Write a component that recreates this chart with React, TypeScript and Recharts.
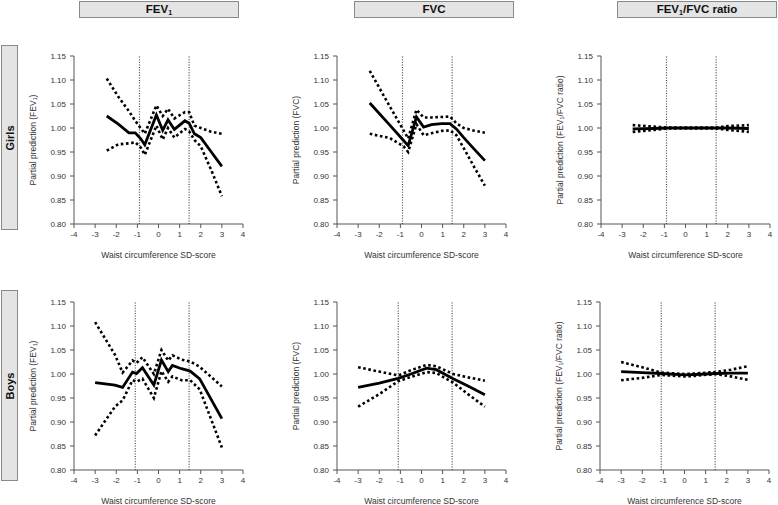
import React from 'react';
import { LineChart, Line, XAxis, YAxis, ReferenceLine } from 'recharts';

// Waist circumference SD-score vs partial prediction, est = estimate, hi/lo = 95% CI
const girlsFev1X = [-2.45, -1.9, -1.4, -1.1, -0.85, -0.65, -0.1, 0.2, 0.45, 0.75, 1.25, 1.45, 1.7, 2.0, 2.5, 3.0];
const girlsFev1Est = [1.025, 1.008, 0.99, 0.99, 0.978, 0.965, 1.027, 0.995, 1.017, 0.997, 1.015, 1.01, 0.988, 0.98, 0.95, 0.92];
const girlsFev1Hi = [1.103, 1.065, 1.035, 1.015, 1.0, 0.988, 1.047, 1.025, 1.04, 1.02, 1.033, 1.033, 1.005, 1.0, 0.992, 0.988];
const girlsFev1Lo = [0.953, 0.966, 0.968, 0.97, 0.96, 0.944, 1.005, 0.976, 1.0, 0.98, 0.998, 0.993, 0.975, 0.962, 0.912, 0.858];

const girlsFvcX = [-2.45, -1.5, -0.85, -0.63, -0.24, 0.1, 0.47, 0.95, 1.35, 1.65, 2.0, 2.45, 3.0];
const girlsFvcEst = [1.052, 1.006, 0.974, 0.963, 1.023, 1.002, 1.007, 1.009, 1.009, 0.998, 0.98, 0.958, 0.932];
const girlsFvcHi = [1.119, 1.045, 0.995, 0.978, 1.038, 1.022, 1.022, 1.023, 1.024, 1.01, 1.0, 0.995, 0.99];
const girlsFvcLo = [0.988, 0.979, 0.962, 0.95, 1.008, 0.985, 0.989, 0.994, 0.995, 0.985, 0.958, 0.922, 0.88];

const girlsRatioX = [-2.5, -1.5, -0.9, 0, 1, 1.45, 2, 3];
const girlsRatioEst = [0.998, 0.999, 1.0, 1.0, 1.0, 1.0, 1.0, 0.999];
const girlsRatioHi = [1.006, 1.003, 1.001, 1.001, 1.001, 1.001, 1.004, 1.006];
const girlsRatioLo = [0.992, 0.996, 0.999, 0.999, 0.999, 0.999, 0.996, 0.992];

const boysFev1X = [-3.0, -2.06, -1.7, -1.23, -1.04, -0.76, -0.22, 0.14, 0.46, 0.66, 1.09, 1.5, 1.95, 3.0];
const boysFev1Est = [0.982, 0.977, 0.972, 1.004, 1.001, 1.013, 0.977, 1.029, 1.005, 1.018, 1.011, 1.006, 0.99, 0.907];
const boysFev1Hi = [1.108, 1.04, 1.003, 1.028, 1.023, 1.035, 1.0, 1.05, 1.028, 1.039, 1.03, 1.026, 1.015, 0.974];
const boysFev1Lo = [0.872, 0.932, 0.945, 0.987, 0.984, 0.99, 0.95, 1.006, 0.984, 0.995, 0.987, 0.987, 0.968, 0.847];

const boysFvcX = [-3.0, -2.0, -1.1, -0.5, 0.24, 0.7, 1.5, 2.2, 3.0];
const boysFvcEst = [0.972, 0.981, 0.991, 1.0, 1.012, 1.009, 0.99, 0.975, 0.957];
const boysFvcHi = [1.014, 1.005, 0.997, 1.008, 1.019, 1.016, 1.0, 0.993, 0.986];
const boysFvcLo = [0.932, 0.958, 0.985, 0.994, 1.004, 1.002, 0.982, 0.958, 0.932];

const boysRatioX = [-3, -2, -1.1, 0, 0.5, 1.45, 2.2, 3];
const boysRatioEst = [1.005, 1.003, 1.001, 0.998, 0.999, 1.001, 1.002, 1.002];
const boysRatioHi = [1.025, 1.014, 1.003, 1.0, 1.001, 1.004, 1.009, 1.016];
const boysRatioLo = [0.987, 0.992, 0.998, 0.995, 0.996, 1.0, 0.995, 0.988];

// vertical cut-off lines (SD-score)
const girlsCutoffs = [-0.9, 1.45];
const boysCutoffs = [-1.1, 1.45];

const xTicks = [-4, -3, -2, -1, 0, 1, 2, 3, 4];
const yTicks = [0.8, 0.85, 0.9, 0.95, 1.0, 1.05, 1.1, 1.15];

const FONT = '"Liberation Sans", Arial, Helvetica, sans-serif';
const PLOT_W = 169;
const PLOT_H = 168;
const Y_AXIS_W = 40;

const toRows = (x: number[], est: number[], hi: number[], lo: number[]) =>
  x.map((v, i) => ({ x: v, est: est[i], hi: hi[i], lo: lo[i] }));

const Sub1 = () => (
  <sub style={{ fontSize: '0.62em', verticalAlign: '-0.25em', lineHeight: 0 }}>1</sub>
);

interface PanelProps {
  left: number;
  top: number;
  rows: { x: number; est: number; hi: number; lo: number }[];
  cutoffs: number[];
  yLabel: React.ReactNode;
}

function Panel({ left, top, rows, cutoffs, yLabel }: PanelProps) {
  const axisColor = '#555';
  return (
    <>
      <div style={{ position: 'absolute', left: left - Y_AXIS_W, top: top - 6 }}>
        <LineChart
          width={Y_AXIS_W + PLOT_W + 12}
          height={6 + PLOT_H + 24}
          data={rows}
          margin={{ top: 6, right: 12, left: 0, bottom: 0 }}
        >
          <XAxis
            dataKey="x"
            type="number"
            domain={[-4, 4]}
            ticks={xTicks}
            height={24}
            tickSize={4}
            tickMargin={3}
            stroke={axisColor}
            tick={{ fontSize: 8, fill: '#333', fontFamily: FONT }}
          />
          <YAxis
            type="number"
            domain={[0.8, 1.15]}
            ticks={yTicks}
            width={Y_AXIS_W}
            tickSize={4}
            tickMargin={4}
            stroke={axisColor}
            tickFormatter={(v: number) => v.toFixed(2)}
            tick={{ fontSize: 8, fill: '#333', fontFamily: FONT }}
          />
          {cutoffs.map((c) => (
            <ReferenceLine key={c} x={c} stroke="#444" strokeWidth={1.2} strokeDasharray="1 1.6" />
          ))}
          <Line
            type="linear"
            dataKey="hi"
            stroke="#000"
            strokeWidth={2.6}
            strokeDasharray="2.6 2.6"
            dot={false}
            isAnimationActive={false}
          />
          <Line
            type="linear"
            dataKey="lo"
            stroke="#000"
            strokeWidth={2.6}
            strokeDasharray="2.6 2.6"
            dot={false}
            isAnimationActive={false}
          />
          <Line
            type="linear"
            dataKey="est"
            stroke="#000"
            strokeWidth={2.8}
            dot={false}
            isAnimationActive={false}
          />
        </LineChart>
      </div>
      <div
        style={{
          position: 'absolute',
          left: left - 41,
          top: top + PLOT_H / 2,
          transform: 'translate(-50%, -50%) rotate(-90deg)',
          whiteSpace: 'nowrap',
          fontSize: 8.5,
          color: '#333',
          fontFamily: FONT,
        }}
      >
        {yLabel}
      </div>
      <div
        style={{
          position: 'absolute',
          left: left + PLOT_W / 2,
          top: top + PLOT_H + 31,
          transform: 'translate(-50%, -50%)',
          whiteSpace: 'nowrap',
          fontSize: 8.5,
          color: '#333',
          fontFamily: FONT,
        }}
      >
        Waist circumference SD-score
      </div>
    </>
  );
}

const headerBox: React.CSSProperties = {
  position: 'absolute',
  top: 1,
  width: 158,
  height: 15,
  border: '1px solid #8a8a8a',
  background: '#e4e4e4',
  textAlign: 'center',
  lineHeight: '15px',
  fontWeight: 'bold',
  fontSize: 11.5,
  fontFamily: FONT,
  color: '#111',
};

const rowBox: React.CSSProperties = {
  position: 'absolute',
  left: 1,
  width: 15,
  border: '1px solid #8a8a8a',
  background: '#e4e4e4',
  fontFamily: FONT,
};

const rowText: React.CSSProperties = {
  position: 'absolute',
  left: '50%',
  top: '50%',
  transform: 'translate(-50%, -50%) rotate(-90deg)',
  fontWeight: 'bold',
  fontSize: 11,
  color: '#111',
  whiteSpace: 'nowrap',
};

export default function App() {
  const topRow = 56;
  const bottomRow = 302;
  return (
    <div
      style={{
        position: 'absolute',
        left: 0,
        top: 0,
        width: 778,
        height: 505,
        background: '#fff',
        fontFamily: FONT,
        overflow: 'hidden',
      }}
    >
      <div style={{ ...headerBox, left: 79 }}>
        FEV<Sub1 />
      </div>
      <div style={{ ...headerBox, left: 354 }}>FVC</div>
      <div style={{ ...headerBox, left: 617 }}>
        FEV<Sub1 />/FVC ratio
      </div>

      <div style={{ ...rowBox, top: 45, height: 183 }}>
        <div style={rowText}>Girls</div>
      </div>
      <div style={{ ...rowBox, top: 290, height: 189 }}>
        <div style={rowText}>Boys</div>
      </div>

      <Panel
        left={74}
        top={topRow}
        rows={toRows(girlsFev1X, girlsFev1Est, girlsFev1Hi, girlsFev1Lo)}
        cutoffs={girlsCutoffs}
        yLabel={<>Partial prediction (FEV<Sub1 />)</>}
      />
      <Panel
        left={337}
        top={topRow}
        rows={toRows(girlsFvcX, girlsFvcEst, girlsFvcHi, girlsFvcLo)}
        cutoffs={girlsCutoffs}
        yLabel="Partial prediction (FVC)"
      />
      <Panel
        left={601}
        top={topRow}
        rows={toRows(girlsRatioX, girlsRatioEst, girlsRatioHi, girlsRatioLo)}
        cutoffs={girlsCutoffs}
        yLabel={<>Partial prediction (FEV<Sub1 />/FVC ratio)</>}
      />

      <Panel
        left={74}
        top={bottomRow}
        rows={toRows(boysFev1X, boysFev1Est, boysFev1Hi, boysFev1Lo)}
        cutoffs={boysCutoffs}
        yLabel={<>Partial prediction (FEV<Sub1 />)</>}
      />
      <Panel
        left={337}
        top={bottomRow}
        rows={toRows(boysFvcX, boysFvcEst, boysFvcHi, boysFvcLo)}
        cutoffs={boysCutoffs}
        yLabel="Partial prediction (FVC)"
      />
      <Panel
        left={600}
        top={bottomRow}
        rows={toRows(boysRatioX, boysRatioEst, boysRatioHi, boysRatioLo)}
        cutoffs={boysCutoffs}
        yLabel={<>Partial prediction (FEV<Sub1 />/FVC ratio)</>}
      />
    </div>
  );
}
